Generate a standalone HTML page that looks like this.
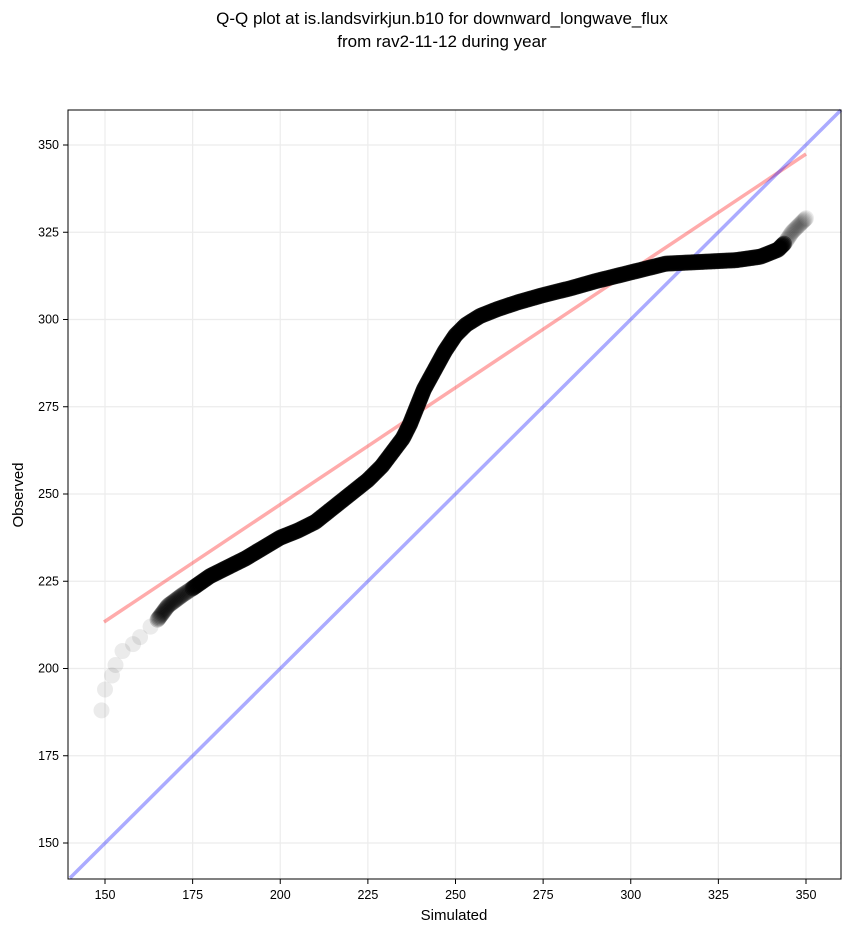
<!DOCTYPE html>
<html><head><meta charset="utf-8"><style>
body{margin:0;background:#fff;}
svg{display:block;font-family:"Liberation Sans","DejaVu Sans",sans-serif;}
</style></head><body>
<svg width="851" height="934" viewBox="0 0 851 934">
<text x="442" y="24" font-size="17" text-anchor="middle">Q-Q plot at is.landsvirkjun.b10 for downward_longwave_flux</text>
<text x="442" y="47" font-size="17" text-anchor="middle">from rav2-11-12 during year</text>
<g id="grid" stroke="#ececec" stroke-width="1.2"></g>
<g id="ticks" font-size="12.5"></g>
<line x1="104" y1="622" x2="806" y2="154" stroke="#ff0000" stroke-opacity="0.33" stroke-width="3.5"/>
<line x1="70" y1="878" x2="841" y2="110" stroke="#0000ff" stroke-opacity="0.33" stroke-width="3.5"/>
<g id="pts"></g>
<rect x="68" y="110" width="773" height="769" fill="none" stroke="#000" stroke-width="1"/>
<text x="454" y="920" font-size="15" text-anchor="middle">Simulated</text>
<text x="23" y="495" font-size="15" text-anchor="middle" transform="rotate(-90 23 495)">Observed</text>
</svg>
<script>
var ns="http://www.w3.org/2000/svg";
function px(s){return 105+(s-150)*3.505;}
function py(o){return 843-(o-150)*3.49;}
function el(p,t,a){var e=document.createElementNS(ns,t);for(var k in a)e.setAttribute(k,a[k]);document.getElementById(p).appendChild(e);return e;}
for(var v=150;v<=350;v+=25){
 el("grid","line",{x1:px(v),x2:px(v),y1:110,y2:879});
 el("grid","line",{x1:68,x2:841,y1:py(v),y2:py(v)});
 el("ticks","line",{x1:px(v),x2:px(v),y1:879,y2:884,stroke:"#000"});
 el("ticks","line",{x1:63,x2:68,y1:py(v),y2:py(v),stroke:"#000"});
 var t=el("ticks","text",{x:px(v),y:899,"text-anchor":"middle"});t.textContent=v;
 t=el("ticks","text",{x:59,y:py(v)+4,"text-anchor":"end"});t.textContent=v;
}
var d=[[149,188],[150,194],[152,198],[153,201],[155,205],[158,207],[160,209],[163,212],[165,214],[168,218],[172,221],[175,223],[180,226.5],[185,229],[190,231.5],[195,234.5],[200,237.5],[205,239.5],[210,242],[215,246],[220,250],[225,254],[229,258],[232,262],[235,266],[237,270],[239,275],[241,280],[244,285.5],[247,291],[250,295.5],[253,298.5],[257,301],[262,303],[268,305],[275,307],[283,309],[290,311],[300,313.5],[310,316],[320,316.5],[330,317],[337,318],[342,320],[344,322],[346,325],[348,327],[350,329]];
for(var i=0;i<d.length-1;i++){
 var a=d[i],b=d[i+1],n=Math.max(2,Math.round(Math.hypot(px(b[0])-px(a[0]),py(b[1])-py(a[1]))/1.5));
 var op=(a[0]<165||a[0]>343)?0.08:(a[0]<175?0.2:0.5);
 if(a[0]<165)n=1;
 for(var j=0;j<n;j++){var f=j/n;
  el("pts","circle",{cx:px(a[0]+(b[0]-a[0])*f),cy:py(a[1]+(b[1]-a[1])*f),r:8,fill:"#000","fill-opacity":op});}
}
var l=d[d.length-1];el("pts","circle",{cx:px(l[0]),cy:py(l[1]),r:8,fill:"#000","fill-opacity":0.08});
</script>
</body></html>
